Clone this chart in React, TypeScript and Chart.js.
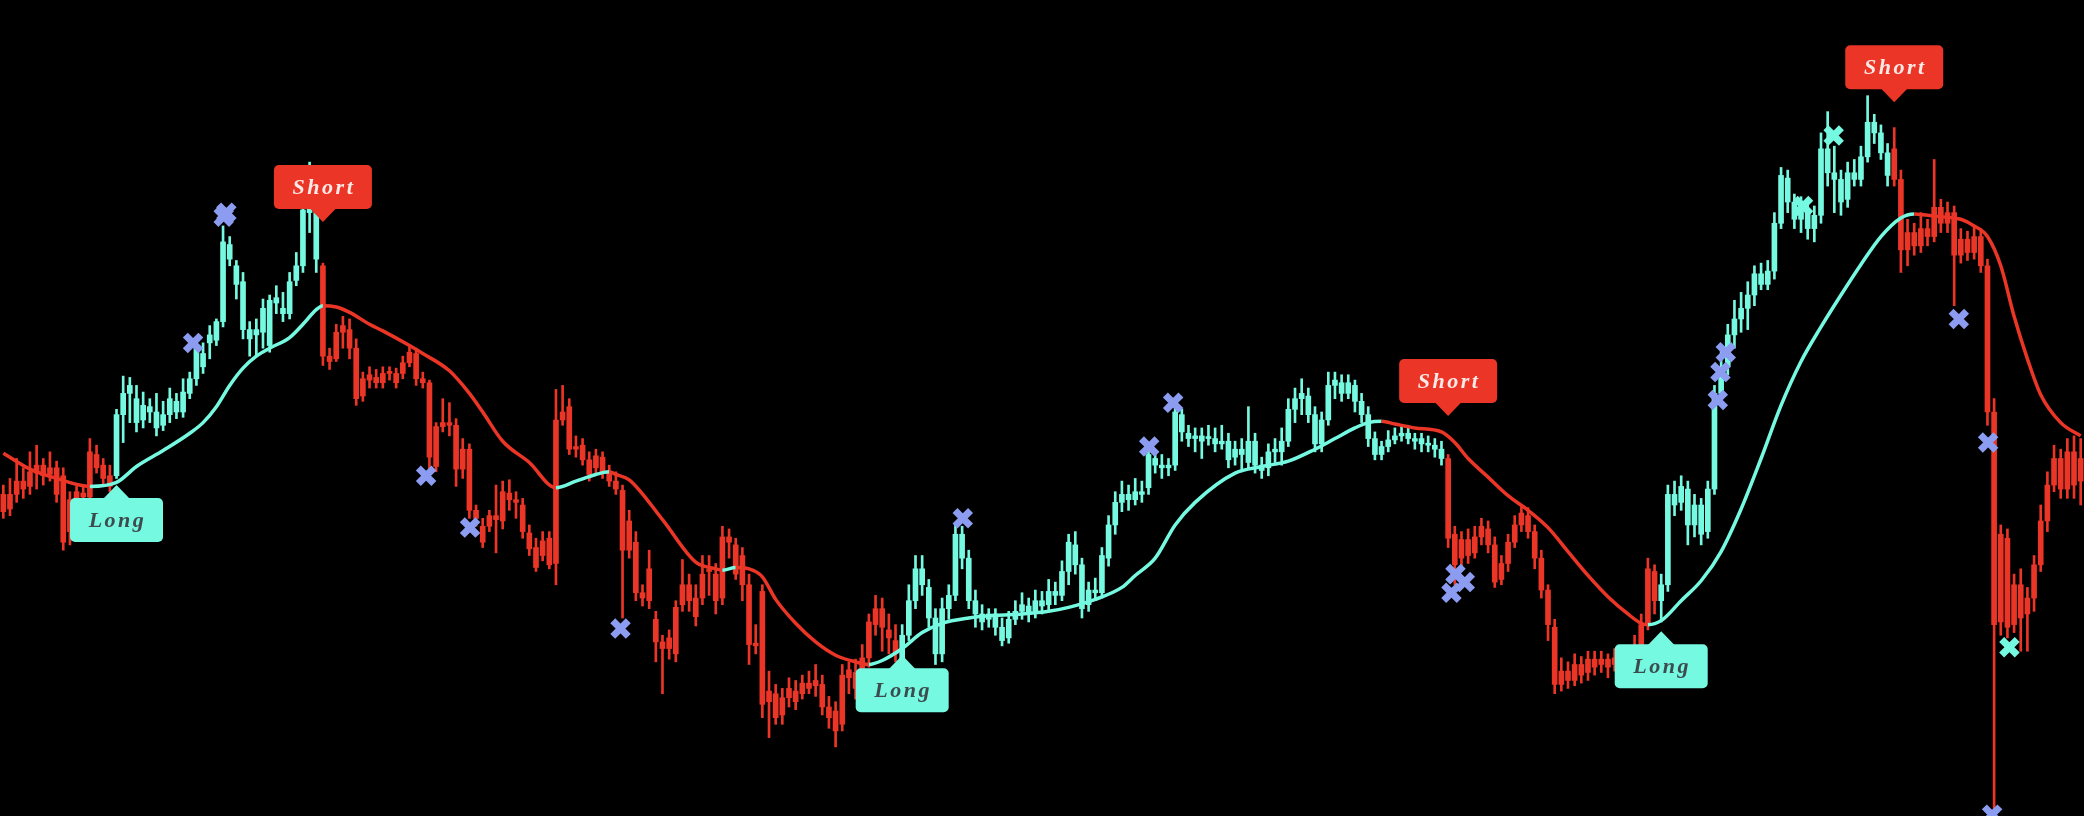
import React, { useEffect, useRef } from "react";
import { Chart, registerables } from "chart.js";

Chart.register(...registerables);

// [open, high, low, close] per bar
const candles: [number, number, number, number][] = [
  [242,249,224,229],[231,254,226,242],[242,269,236,252],[252,262,239,246],[248,274,242,259],
  [258,279,246,264],[264,269,249,256],[257,274,252,262],[262,267,236,242],[256,262,200,206],
  [214,244,204,238],[238,248,234,244],[243,249,236,240],[240,284,238,274],[272,279,258,262],
  [264,269,249,254],[256,264,244,248],[256,306,254,302],[302,331,281,318],[318,330,296,324],
  [314,324,289,296],[298,319,292,309],[308,314,296,304],[304,318,286,292],[294,312,290,302],
  [302,322,296,314],[312,318,299,304],[304,329,300,319],[318,334,314,329],[329,359,324,352],
  [338,356,333,348],[356,369,344,362],[358,374,354,372],[372,444,368,432],[430,436,414,419],
  [414,418,389,400],[402,409,359,366],[366,372,346,359],[362,374,346,366],[364,389,352,382],
  [354,392,349,388],[386,399,378,390],[382,394,372,378],[378,409,374,402],[403,424,399,414],
  [414,464,409,456],[454,492,439,458],[454,464,409,419],[414,416,339,346],[346,352,336,342],
  [344,370,342,364],[364,376,352,369],[366,374,344,352],[352,359,309,314],[316,334,312,329],
  [328,338,322,332],[330,336,322,326],[326,338,322,333],[333,338,328,333],[333,337,322,326],
  [333,346,329,341],[341,353,338,349],[348,352,324,329],[329,334,322,326],[326,328,258,270],
  [263,296,259,293],[293,314,289,296],[296,311,286,294],[294,299,248,261],[261,284,254,276],
  [276,280,224,230],[230,234,218,224],[218,224,202,206],[218,230,214,226],[226,249,198,223],
  [222,252,216,244],[243,253,230,238],[238,244,224,236],[234,239,209,214],[213,219,196,201],
  [202,209,184,187],[196,214,192,207],[209,214,186,189],[190,321,174,298],[298,324,294,304],
  [308,314,272,276],[278,286,270,276],[279,284,264,268],[268,274,252,257],[262,276,257,271],
  [270,274,254,259],[259,264,248,252],[252,259,242,246],[245,249,149,200],[200,230,194,222],
  [206,214,162,168],[168,174,158,164],[162,200,156,186],[148,154,116,131],[131,136,92,126],
  [126,140,118,134],[122,162,116,157],[159,193,154,174],[174,182,154,162],[164,174,143,150],
  [164,196,159,182],[184,196,166,184],[182,190,152,162],[164,218,159,210],[210,216,194,206],
  [204,209,178,182],[196,202,162,174],[174,182,114,129],[130,144,122,128],[169,174,74,84],
  [86,109,59,94],[92,99,69,74],[76,96,69,89],[89,104,82,96],[94,102,80,86],
  [92,106,88,100],[100,109,92,96],[98,114,90,102],[99,106,76,82],[82,90,66,74],
  [79,86,52,64],[69,114,64,106],[104,116,92,110],[108,118,88,96],[99,129,94,119],
  [119,152,112,146],[144,166,136,156],[156,164,124,142],[140,152,122,134],[132,144,116,122],
  [118,144,114,136],[136,174,132,162],[162,196,156,186],[186,196,166,174],[172,178,142,149],
  [149,156,114,122],[122,164,116,156],[156,174,148,166],[166,219,162,212],[212,218,186,194],
  [194,200,156,162],[162,170,142,152],[152,159,140,146],[148,156,142,152],[152,156,136,142],
  [142,149,128,132],[134,154,130,148],[148,162,144,154],[154,168,148,159],[158,164,146,152],
  [154,170,149,162],[162,169,152,158],[159,178,154,169],[169,176,159,166],[166,192,162,184],
  [184,212,174,206],[204,214,182,189],[189,194,149,156],[159,176,154,170],[170,179,162,168],
  [168,202,164,196],[194,226,188,219],[219,244,212,236],[236,252,229,242],[242,249,230,238],
  [238,254,234,244],[244,252,236,242],[247,278,242,272],[269,274,258,264],[264,272,254,262],
  [262,269,256,264],[264,308,260,304],[302,306,282,289],[288,294,278,284],[284,292,274,286],
  [286,292,269,282],[284,294,279,285],[284,292,274,280],[280,294,276,282],[282,288,262,268],
  [270,282,264,276],[276,284,259,272],[266,308,262,282],[282,288,258,264],[264,270,254,260],
  [262,280,256,274],[274,284,266,276],[274,292,264,282],[282,314,278,306],[306,322,296,314],
  [314,329,302,318],[316,322,296,302],[302,308,274,280],[280,304,274,298],[298,334,294,324],
  [324,334,314,328],[326,332,312,318],[318,332,314,326],[324,328,304,312],[312,318,296,302],
  [302,308,278,284],[284,289,268,272],[272,282,268,278],[278,290,274,283],[283,292,280,286],
  [286,294,282,288],[288,294,280,284],[282,288,276,284],[284,288,274,280],[280,286,274,279],
  [279,284,270,276],[276,282,264,269],[269,272,202,209],[212,218,174,189],[194,214,186,208],
  [208,216,190,196],[198,218,194,210],[210,224,204,218],[216,222,198,204],[204,210,172,176],
  [178,196,174,190],[190,212,184,206],[206,226,202,219],[219,234,214,228],[226,232,209,214],
  [214,219,186,194],[194,200,164,170],[170,174,132,144],[142,148,92,99],[99,119,94,109],
  [109,116,96,102],[102,122,98,114],[114,120,100,106],[108,124,102,118],[118,124,106,112],
  [114,124,108,118],[118,122,104,112],[114,126,109,119],[119,124,108,114],[114,128,110,122],
  [122,136,116,128],[128,152,122,144],[144,194,140,186],[184,189,152,162],[162,182,146,174],
  [174,249,169,242],[242,252,226,234],[236,256,230,248],[246,252,204,219],[219,242,210,234],
  [234,239,204,212],[214,252,209,246],[246,324,242,318],[318,352,312,338],[338,370,332,362],
  [362,388,352,374],[374,394,364,382],[382,402,366,392],[392,414,384,408],[408,416,396,400],
  [400,418,396,410],[410,454,404,446],[446,488,442,482],[480,486,454,462],[462,468,442,449],
  [449,466,439,459],[456,464,434,442],[442,459,432,452],[452,514,446,502],[502,530,474,484],
  [484,504,454,479],[479,486,452,462],[464,492,458,484],[484,494,474,479],[479,504,474,496],
  [496,542,492,522],[522,528,506,514],[514,520,494,499],[499,506,474,482],[502,518,474,479],
  [479,486,409,426],[426,449,414,439],[439,446,422,429],[429,454,424,442],[442,449,429,436],
  [436,494,432,458],[458,464,439,446],[446,462,439,454],[454,459,384,422],[422,442,416,434],
  [434,440,418,424],[424,444,419,436],[436,442,409,414],[414,419,294,304],[304,314,4,144],
  [146,219,136,212],[209,216,134,142],[144,182,138,174],[174,186,124,149],[152,172,124,164],
  [164,196,154,189],[189,234,184,222],[222,259,214,249],[249,279,244,269],[269,276,239,246],
  [246,284,239,274],[274,286,239,249],[252,284,234,269],
];

// moving average, read at bar positions
const maIdx = [0,4,8,13,17,20,24,28,30,32,34,36,38,40,43,45,47,48,50,52,55,57,61,63,67,70,72,75,79,83,86,89,91,92,94,99,104,107,108,110,112,114,116,119,122,125,128,130,132,135,138,141,145,149,153,157,160,164,168,170,173,176,179,185,189,193,197,200,203,205,207,209,212,216,218,220,223,226,229,232,235,238,241,244,246,247,249,252,255,258,261,264,267,270,273,276,279,282,285,287,289,291,294,296,298,300,302,304,306,309,312];
const maVal = [273,261,254,248,251,263,275,288,296,308,324,337,346,352,360,370,381,384,383,379,370,365,354,348,335,318,304,282,266,247,252,257,259,257,253,223,191,186,185,187,186,180,163,145,131,121,116,114,117,126,138,145,149,151,152,154,157,163,172,181,194,219,236,258,263,267,276,284,292,296,297,295,292,289,281,269,255,241,230,217,199,181,165,152,145,144,147,162,177,199,231,269,309,342,368,392,415,436,450,453,452,451,449,444,436,414,376,344,317,296,286];

// signals
const signalIdx = [17, 48, 135, 217, 249, 284];
const signalType = ["Long", "Short", "Long", "Short", "Long", "Short"];
const signalPrice = [249, 447, 121, 301, 139, 537];

// cross markers
const markX = [28.5,33.1,33.5,63.5,70.1,92.7,144.1,172.1,175.7,217.5,218.1,219.5,257.5,257.9,258.7,270.3,274.9,293.7,298.1,301.3,298.7];
const markY = [356,451,454,256,217,141,224,278,311,168,182,176,313,334,349,459,512,374,281,127,1];
const markKind = ["b","b","b","b","b","b","b","b","b","b","b","b","b","b","b","a","a","b","b","a","b"];

const AQUA = "#76f9e1";
const RED = "#eb3526";
const LAV = "#8c9cf0";

export default function App() {
  const ref = useRef<HTMLCanvasElement>(null);
  useEffect(() => {
    document.body.style.margin = "0";
    document.body.style.background = "#000";
    const N = candles.length;
    const up: boolean[] = [];
    let state = false;
    for (let i = 0; i < N; i++) {
      const k = signalIdx.indexOf(i);
      if (k >= 0) state = signalType[k] === "Long";
      up.push(state);
    }
    const colors = up.map((u) => (u ? AQUA : RED));

    const labelPlugin = {
      id: "signalLabels",
      afterDatasetsDraw(chart: any) {
        const ctx = chart.ctx as CanvasRenderingContext2D;
        const xs = chart.scales.xl;
        const ys = chart.scales.y;
        signalIdx.forEach((idx, k) => {
          const long = signalType[k] === "Long";
          const x = xs.getPixelForValue(idx);
          const y = ys.getPixelForValue(signalPrice[k]);
          const w = long ? 93 : 98;
          const h = 44;
          const th = 13;
          const tw = 13.5;
          const top = long ? y + th : y - th - h;
          ctx.save();
          ctx.fillStyle = long ? AQUA : RED;
          ctx.beginPath();
          (ctx as any).roundRect(x - w / 2, top, w, h, 5);
          ctx.fill();
          ctx.beginPath();
          if (long) {
            ctx.moveTo(x, y);
            ctx.lineTo(x - tw, y + th + 1);
            ctx.lineTo(x + tw, y + th + 1);
          } else {
            ctx.moveTo(x, y);
            ctx.lineTo(x - tw, y - th - 1);
            ctx.lineTo(x + tw, y - th - 1);
          }
          ctx.closePath();
          ctx.fill();
          ctx.font = 'italic bold 22px "Liberation Serif"';
          (ctx as any).letterSpacing = "2.5px";
          ctx.textAlign = "center";
          ctx.textBaseline = "middle";
          ctx.fillStyle = long ? "#3c4b4d" : "#fde9e6";
          ctx.fillText(signalType[k], x + 1, top + h / 2 + 1);
          ctx.restore();
        });
      },
    };

    const chart = new Chart(ref.current as HTMLCanvasElement, {
      type: "bar",
      data: {
        labels: candles.map((_, i) => i),
        datasets: [
          {
            type: "scatter",
            xAxisID: "xl",
            yAxisID: "y",
            data: markX.map((x, k) => ({ x, y: markY[k] })),
            pointStyle: "crossRot",
            pointRadius: 11,
            pointHoverRadius: 11,
            pointBorderWidth: 7,
            pointBorderColor: markKind.map((m) => (m === "a" ? AQUA : LAV)),
            pointBackgroundColor: markKind.map((m) => (m === "a" ? AQUA : LAV)),
            clip: false,
            order: 0,
          } as any,
          {
            type: "line",
            xAxisID: "xl",
            yAxisID: "y",
            data: maIdx.map((x, k) => ({ x, y: maVal[k] })),
            borderWidth: 3.5,
            pointRadius: 0,
            cubicInterpolationMode: "monotone",
            borderColor: AQUA,
            segment: {
              borderColor: (c: any) => (c.p1.parsed.y >= c.p0.parsed.y ? AQUA : RED),
            },
            order: 1,
          } as any,
          {
            type: "bar",
            xAxisID: "x",
            yAxisID: "y",
            data: candles.map((c) => [c[0], c[3]]),
            backgroundColor: colors,
            barThickness: 5,
            minBarLength: 2,
            grouped: false,
            order: 2,
          } as any,
          {
            type: "bar",
            xAxisID: "x",
            yAxisID: "y",
            data: candles.map((c) => [c[2], c[1]]),
            backgroundColor: colors,
            barThickness: 2,
            grouped: false,
            order: 3,
          } as any,
        ],
      },
      options: {
        animation: false,
        responsive: false,
        maintainAspectRatio: false,
        events: [],
        layout: { padding: 0, autoPadding: false },
        plugins: { legend: { display: false }, tooltip: { enabled: false } },
        scales: {
          x: { type: "category", display: false, offset: true, grid: { display: false } },
          xl: { type: "linear", display: false, offset: false, bounds: "data", min: -0.5, max: candles.length - 0.5, grid: { display: false, offset: false } },
          y: { type: "linear", display: false, offset: false, min: 0, max: 614, grid: { display: false } },
        },
      } as any,
      plugins: [labelPlugin],
    });
    return () => chart.destroy();
  }, []);
  return (
    <div style={{ width: 2084, height: 816, background: "#000" }}>
      <canvas ref={ref} width={2084} height={816} style={{ display: "block" }} />
    </div>
  );
}
